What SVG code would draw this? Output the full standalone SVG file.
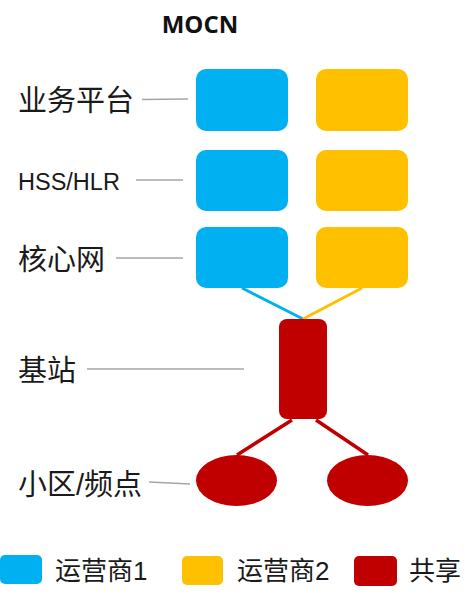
<svg xmlns="http://www.w3.org/2000/svg" width="474" height="594" viewBox="0 0 474 594">
<style>
.lbl{font-family:"Liberation Sans","Noto Sans CJK SC",sans-serif;font-size:29px;fill:#1a1a1a}
.leg{font-family:"Liberation Sans","Noto Sans CJK SC",sans-serif;font-size:26px;fill:#1a1a1a}
.ttl{font-family:"Open Sans","Liberation Sans",sans-serif;font-size:24px;font-weight:bold;fill:#111}
.lead{stroke:#a6a6a6;stroke-width:1.5;fill:none}
.op1{fill:#00B0F0}
.op2{fill:#FFC000}
.sh{fill:#C00000}
</style>
<rect width="474" height="594" fill="#fff"/>
<text class="ttl" x="200" y="33" text-anchor="middle">MOCN</text>
<g id="labels">
<text class="lbl" x="18" y="111">业务平台</text>
<text class="lbl" x="18" y="190" style="font-size:23.5px">HSS/HLR</text>
<text class="lbl" x="18" y="270">核心网</text>
<text class="lbl" x="18" y="381">基站</text>
<text class="lbl" x="18" y="495">小区/频点</text>
</g>
<g id="connectors">
<line class="lead" x1="142" y1="99.5" x2="188" y2="99"/>
<line class="lead" x1="136" y1="180" x2="183" y2="180"/>
<line class="lead" x1="116" y1="258" x2="183" y2="258"/>
<line class="lead" x1="87" y1="369" x2="244" y2="369"/>
<line class="lead" x1="149" y1="482" x2="190" y2="484"/>
<line x1="242" y1="288" x2="303" y2="319" stroke="#00B0F0" stroke-width="3"/>
<line x1="362" y1="288" x2="303" y2="319" stroke="#FFC000" stroke-width="3"/>
<line x1="292" y1="420" x2="237" y2="455" stroke="#C00000" stroke-width="3.5"/>
<line x1="316" y1="420" x2="368" y2="455" stroke="#C00000" stroke-width="3.5"/>
</g>
<g id="app1"><rect class="op1" x="196" y="69" width="92" height="62" rx="10"/></g>
<g id="app2"><rect class="op2" x="316" y="69" width="92" height="62" rx="10"/></g>
<g id="hss1"><rect class="op1" x="196" y="150" width="92" height="61" rx="10"/></g>
<g id="hss2"><rect class="op2" x="316" y="150" width="92" height="61" rx="10"/></g>
<g id="core1"><rect class="op1" x="196" y="227" width="92" height="61" rx="10"/></g>
<g id="core2"><rect class="op2" x="316" y="227" width="92" height="61" rx="10"/></g>
<g id="bs"><rect class="sh" x="279" y="319" width="48" height="100" rx="8"/></g>
<g id="cell1"><ellipse class="sh" cx="236.5" cy="480.5" rx="40.5" ry="25.5"/></g>
<g id="cell2"><ellipse class="sh" cx="367.5" cy="480.5" rx="40.5" ry="25.5"/></g>
<g id="legend">
<rect class="op1" x="0" y="555" width="42" height="29" rx="5"/>
<text class="leg" x="55" y="580">运营商1</text>
<rect class="op2" x="182" y="556" width="41" height="29" rx="5"/>
<text class="leg" x="237" y="580">运营商2</text>
<rect class="sh" x="354" y="556" width="43" height="30" rx="5"/>
<text class="leg" x="409" y="580">共享</text>
</g>
</svg>
